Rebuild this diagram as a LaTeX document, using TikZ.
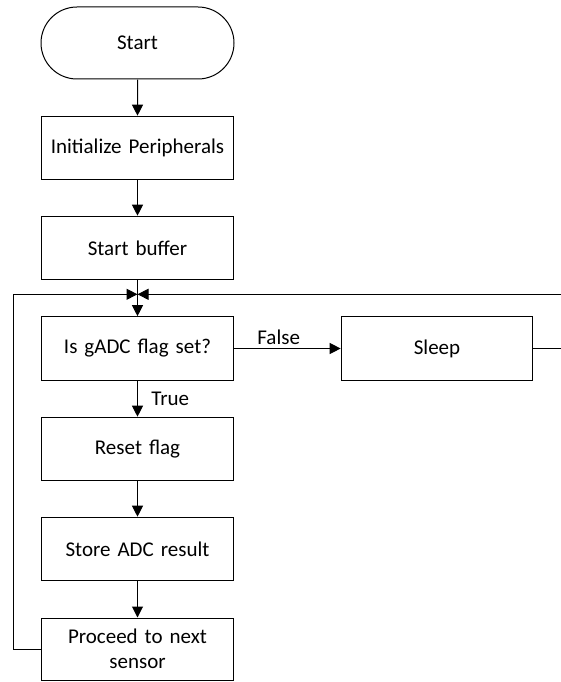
\documentclass[tikz,border=0pt]{standalone}
\usepackage{fontspec}
\setmainfont{Carlito}[WordSpace={0.85,0,0}]
\usetikzlibrary{positioning, arrows.meta, shapes.misc}

\tikzset{
  process/.style={draw, rectangle, line width=1pt, minimum width=191.6pt,
    minimum height=63.6pt, align=center, text width=185pt,
    font=\fontsize{21}{25}\selectfont},
  terminal/.style={process, rounded rectangle, minimum height=72pt},
  flow/.style={line width=1pt, -{Triangle[length=11pt,width=11pt]}},
  edgelabel/.style={font=\fontsize{21}{25}\selectfont}
}

\begin{document}
\begin{tikzpicture}[x=1pt, y=-1pt]
    \useasboundingbox (0,0) rectangle (561,682);

    % Blocks
    \node[terminal] (start) at (137.5,43) {Start};
    \node[process] (init) at (137.5,148) {Initialize Peripherals};
    \node[process] (buffer) at (137.5,248) {Start buffer};
    \node[process] (check) at (137.5,348.5) {Is gADC flag set?};
    \node[process] (sleep) at (437,348.5) {Sleep};
    \node[process] (reset) at (137.5,449) {Reset flag};
    \node[process] (store) at (137.5,549) {Store ADC result};
    \node[process, minimum height=62pt] (next) at (137.5,649) {Proceed to next\\sensor};

    % Loop points
    \coordinate (join) at (137.5,294.3);
    \coordinate (loopL) at (13.3,294.3);
    \coordinate (loopR) at (575,294.3);

    % Connectors
    \draw[flow] (start) -- (init);
    \draw[flow] (init) -- (buffer);
    \draw[line width=1pt] (buffer) -- (join);
    \draw[flow] (join) -- (check);
    \draw[flow] (check) -- node[edgelabel, right=10pt] {True} (reset);
    \draw[flow] (check) -- node[edgelabel, above, pos=0.42] {False} (sleep);
    \draw[flow] (reset) -- (store);
    \draw[flow] (store) -- (next);
    \draw[flow] (sleep.east) -| (loopR) -- (join);
    \draw[flow] (next.west) -| (loopL) -- (join);
\end{tikzpicture}
\end{document}
